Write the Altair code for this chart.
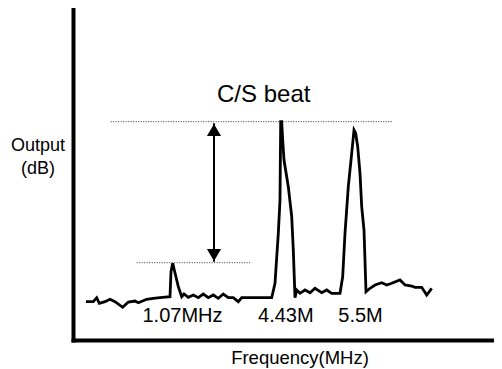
import altair as alt
import pandas as pd

# Spectrum trace (schematic units: x = position along frequency axis, y = output level)
trace_x = [13, 20.3, 23.7, 26.3, 32, 37, 42, 49.7, 55.3, 62, 65.3, 73.7, 80.3, 87, 97,
           98, 99.7, 101.3, 105.3, 108.7, 111, 115.3, 120.3, 125.3, 130.3, 135.3, 140.3,
           145.3, 150.3, 155.3, 160.3, 165.3, 168.7, 198.7,
           202, 205.3, 207, 207.7, 208.7, 209.7, 211, 215.3, 218.7, 220.3, 222,
           223.7, 227, 232, 237, 242, 248.7, 253.7, 258.7, 267,
           269.7, 272, 275.3, 278.7, 281, 282.7, 284.7, 287, 288.7, 291, 293,
           297, 302, 308.7, 313.7, 318.7, 327, 332, 338.7, 342, 348.7, 353.7, 358.7]
trace_y = [38.3, 38.3, 42.3, 36.7, 38.3, 40.7, 38.3, 32.7, 38, 39, 37.3, 40.7, 41.7, 42.3, 43.3,
           68.3, 76.7, 70, 53.3, 43.3, 46, 42.7, 45, 42.3, 46, 42.3, 45,
           41.7, 46, 42.3, 42.3, 38.3, 42.3, 42.3,
           56.7, 106.7, 140, 218.3, 218.3, 200, 180, 153.3, 123.3, 90, 42.3,
           50, 46.7, 50, 47.3, 51.7, 47.3, 50, 46.7, 46.7,
           63.3, 106.7, 153.3, 186.7, 210, 206.7, 193.3, 166.7, 133.3, 110, 48.3,
           51.7, 55, 57.3, 55, 56.7, 60, 55, 54, 52.7, 52.7, 45, 51.7]

# Dotted reference levels
ref_x1 = [37.7, 63.7]
ref_x2 = [319.7, 178]
ref_y = [218.3, 77.3]

# Double-headed arrow
arrow_x = [141, 141]
arrow_y = [216.7, 78.3]
head_y = [210, 85]
head_shape = ["triangle-up", "triangle-down"]

# Labels
label_text = ["1.07MHz", "4.43M", "5.5M"]
label_x = [109.5, 212.8, 287.5]
label_y = [18.3, 18.3, 18.3]
beat_text = ["C/S beat"]
beat_x = [190.7]
beat_y = [238.3]

X_DOMAIN = [0, 421]
Y_DOMAIN = [0, 332]
FONT = "Liberation Sans"

xs = alt.Scale(domain=X_DOMAIN, nice=False, zero=False)
ys = alt.Scale(domain=Y_DOMAIN, nice=False, zero=False)

trace_df = pd.DataFrame({"x": trace_x, "y": trace_y, "o": range(len(trace_x))})
ref_df = pd.DataFrame({"x": ref_x1, "x2": ref_x2, "y": ref_y})
arrow_df = pd.DataFrame({"x": arrow_x, "y": arrow_y})
head_df = pd.DataFrame({"x": arrow_x, "y": head_y, "shape": head_shape})
label_df = pd.DataFrame({"x": label_x, "y": label_y, "t": label_text})
beat_df = pd.DataFrame({"x": beat_x, "y": beat_y, "t": beat_text})

line = alt.Chart(trace_df).mark_line(color="black", strokeWidth=2.8, strokeJoin="miter").encode(
    x=alt.X("x:Q", scale=xs, axis=alt.Axis(
        domain=True, domainColor="black", domainWidth=4, domainCap="square",
        ticks=False, labels=False, grid=False,
        title="Frequency(MHz)", titleFont=FONT, titleFontSize=18.5, titleFontWeight="normal",
        titleColor="black", titleX=226.5, titleY=23, titleAlign="center",
        titleBaseline="alphabetic")),
    y=alt.Y("y:Q", scale=ys, axis=alt.Axis(
        domain=True, domainColor="black", domainWidth=4, domainCap="square",
        ticks=False, labels=False, grid=False,
        title=["Output", "(dB)"], titleFont=FONT, titleFontSize=18, titleFontWeight="normal",
        titleColor="black", titleAngle=0, titleX=-35.5, titleY=142, titleAlign="center",
        titleBaseline="alphabetic", titleLineHeight=23)),
    order="o:Q",
)

refs = alt.Chart(ref_df).mark_rule(color="#333333", strokeWidth=1, strokeDash=[1, 1.5]).encode(
    x=alt.X("x:Q", scale=xs), x2="x2:Q", y=alt.Y("y:Q", scale=ys)
)

shaft = alt.Chart(arrow_df).mark_line(color="black", strokeWidth=2).encode(
    x=alt.X("x:Q", scale=xs), y=alt.Y("y:Q", scale=ys)
)

heads = alt.Chart(head_df).mark_point(filled=True, color="black", size=200, opacity=1).encode(
    x=alt.X("x:Q", scale=xs), y=alt.Y("y:Q", scale=ys),
    shape=alt.Shape("shape:N", scale=None, legend=None),
)

labels = alt.Chart(label_df).mark_text(font=FONT, fontSize=20, color="black",
                                       align="center", baseline="alphabetic").encode(
    x=alt.X("x:Q", scale=xs), y=alt.Y("y:Q", scale=ys), text="t:N"
)

beat = alt.Chart(beat_df).mark_text(font=FONT, fontSize=24, color="black",
                                    align="center", baseline="alphabetic").encode(
    x=alt.X("x:Q", scale=xs), y=alt.Y("y:Q", scale=ys), text="t:N"
)

chart = alt.layer(refs, shaft, heads, line, labels, beat).properties(
    width=421, height=332,
    autosize=alt.AutoSizeParams(type="none"),
    padding={"left": 65, "top": 0, "right": 0, "bottom": 29},
    background="white",
).configure_view(stroke=None)

chart.save("out.html", embed_options={"renderer": "svg", "actions": False})
